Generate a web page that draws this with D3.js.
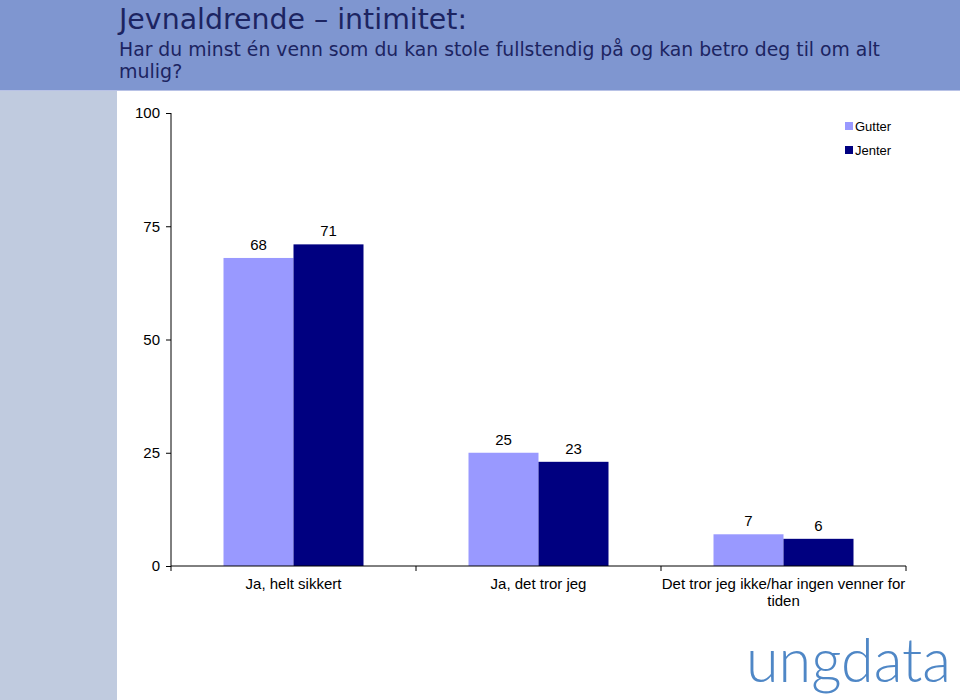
<!DOCTYPE html>
<html><head><meta charset="utf-8">
<script src="https://cdn.jsdelivr.net/npm/d3@7"></script>
<style>body{margin:0;background:#fff}svg{display:block}</style>
</head><body>
<script>
const categories = ["Ja, helt sikkert", "Ja, det tror jeg", "Det tror jeg ikke/har ingen venner for tiden"];
const seriesNames = ["Gutter", "Jenter"];
const gutter = [68, 25, 7];
const jenter = [71, 23, 6];
const yTicks = [0, 25, 50, 75, 100];
const colors = ["#9999ff", "#000080"];

const W = 960, H = 700;
const svg = d3.select("body").append("svg").attr("width", W).attr("height", H);

// background panels
svg.append("rect").attr("x",0).attr("y",0).attr("width",W).attr("height",90).attr("fill","#7f96d0");
svg.append("rect").attr("x",0).attr("y",90).attr("width",W).attr("height",1).attr("fill","#b8c2e6");
svg.append("rect").attr("x",0).attr("y",91).attr("width",117).attr("height",H-91).attr("fill","#c0cbdf");

// title
const tcol = "#1c2461";
const tfont = "DejaVu Sans, Verdana, sans-serif";
svg.append("text").attr("x",119).attr("y",29).attr("font-family",tfont)
  .attr("font-size",28).attr("fill",tcol).attr("textLength",348).attr("lengthAdjust","spacingAndGlyphs")
  .text("Jevnaldrende – intimitet:");
svg.append("text").attr("x",119).attr("y",56).attr("font-family",tfont)
  .attr("font-size",19).attr("fill",tcol).attr("textLength",761).attr("lengthAdjust","spacingAndGlyphs")
  .text("Har du minst én venn som du kan stole fullstendig på og kan betro deg til om alt");
svg.append("text").attr("x",119).attr("y",78).attr("font-family",tfont)
  .attr("font-size",19).attr("fill",tcol).text("mulig?");

// scales
const y = d3.scaleLinear().domain([0,100]).range([566,113]);
const x0 = d3.scaleBand().domain(categories).range([171,906]).padding(0);
const x1 = d3.scaleBand().domain(seriesNames).range([52.5, x0.bandwidth()-52.5]).padding(0);

const font = "Liberation Sans, Arial, sans-serif";

// y axis
const yAxis = svg.append("g").attr("transform","translate(171,0)")
  .call(d3.axisLeft(y).tickValues(yTicks).tickSize(5).tickPadding(6).tickFormat(d3.format("d")));
yAxis.selectAll("path,line").attr("stroke","#000");
yAxis.select(".domain").attr("d","M0,113V566");
yAxis.selectAll("text").attr("font-family",font).attr("font-size",15).attr("fill","#000");

// bars
const data = categories.map((c,i)=>({cat:c, vals:[{s:"Gutter",v:gutter[i]},{s:"Jenter",v:jenter[i]}]}));
const g = svg.append("g");
const grp = g.selectAll("g.cat").data(data).join("g").attr("class","cat")
  .attr("transform",d=>`translate(${x0(d.cat)},0)`);
grp.selectAll("rect").data(d=>d.vals).join("rect")
  .attr("x",d=>x1(d.s)).attr("width",x1.bandwidth())
  .attr("y",d=>y(d.v)).attr("height",d=>y(0)-y(d.v))
  .attr("fill",(d,i)=>colors[i]);
grp.selectAll("text.val").data(d=>d.vals).join("text").attr("class","val")
  .attr("x",d=>x1(d.s)+x1.bandwidth()/2).attr("y",d=>y(d.v)-8)
  .attr("text-anchor","middle").attr("font-family",font).attr("font-size",15).attr("fill","#000")
  .text(d=>d.v);

// x axis
const xAxis = svg.append("g").attr("transform","translate(0,566)");
xAxis.append("line").attr("x1",171).attr("x2",906).attr("stroke","#000");
const bounds = [171, ...categories.map(c=>x0(c)+x0.bandwidth())];
xAxis.selectAll("line.tick").data(bounds).join("line").attr("class","tick")
  .attr("x1",d=>d).attr("x2",d=>d).attr("y1",0).attr("y2",5).attr("stroke","#000");

// category labels with wrapping
function wrapLabel(sel, width){
  sel.each(function(d){
    const t = d3.select(this); const words = d.split(/\s+/); let line=[]; let lines=[];
    t.text(null);
    let tmp = t.append("tspan");
    words.forEach(w=>{
      line.push(w); tmp.text(line.join(" "));
      if (tmp.node().getComputedTextLength()>width && line.length>1){
        line.pop(); lines.push(line.join(" ")); line=[w]; tmp.text(w);
      }
    });
    lines.push(line.join(" "));
    tmp.remove();
    lines.forEach((l,i)=>t.append("tspan").attr("x",t.attr("x")).attr("dy", i===0?0:17).text(l));
  });
}
svg.append("g").selectAll("text").data(categories).join("text")
  .attr("x",d=>x0(d)+x0.bandwidth()/2).attr("y",589)
  .attr("text-anchor","middle").attr("font-family",font).attr("font-size",15).attr("fill","#000")
  .call(wrapLabel, 252);

// legend
const leg = svg.append("g").attr("transform","translate(845,122)");
seriesNames.forEach((s,i)=>{
  leg.append("rect").attr("x",0).attr("y",i*24).attr("width",8).attr("height",8).attr("fill",colors[i]);
  leg.append("text").attr("x",10).attr("y",i*24+9).attr("font-family",font).attr("font-size",13)
    .attr("fill","#000").text(s);
});

// logo
svg.append("text").attr("x",746).attr("y",682).attr("font-family","Lato, sans-serif").attr("font-weight",300)
  .attr("font-size",62).attr("fill","#4f87c6").attr("textLength",205).attr("lengthAdjust","spacingAndGlyphs").text("ungdata");
</script>
</body></html>
